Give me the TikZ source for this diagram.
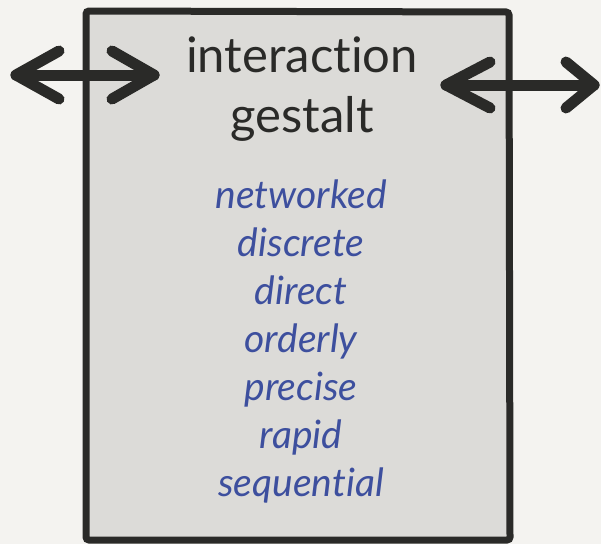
\documentclass[tikz,border=0pt]{standalone}
\usepackage{fontspec}
\setmainfont{Lato}[Ligatures=NoCommon]
\definecolor{bgc}{HTML}{F4F3F0}
\definecolor{boxfill}{HTML}{DCDBD8}
\definecolor{ink}{HTML}{2A2A28}
\definecolor{wordblue}{HTML}{3D4F9E}
\tikzset{
  frame/.style={draw=ink, line width=7pt, fill=boxfill, rounded corners=3pt},
  arrowline/.style={draw=ink, line width=11pt, line cap=round, line join=round},
  title/.style={anchor=base, font=\fontsize{49}{58}\selectfont, text=ink, inner sep=0pt},
  word/.style={anchor=base, font=\fontsize{39}{46}\itshape\selectfont, text=wordblue, inner sep=0pt}
}
\begin{document}
\begin{tikzpicture}[x=1pt,y=-1pt]
\useasboundingbox (0,0) rectangle (601,544);
\fill[bgc] (0,0) rectangle (601,544);
\draw[frame] (86,11) -- (509,12) -- (510,540) -- (86,540) -- cycle;
\node[title] (t1) at (302,72) {interaction};
\node[title] (t2) at (302,132) {gestalt};
\foreach \w [count=\i from 0] in {networked,discrete,direct,orderly,precise,rapid,sequential}
  \node[word] (w\i) at (301,208+48*\i) {\w};
% left double arrow
\coordinate (la) at (16,75);
\coordinate (lb) at (154,75);
\draw[arrowline] (la) -- (lb);
\draw[arrowline] (59,51) -- (la) -- (59,99);
\draw[arrowline] (112,51) -- (lb) -- (112,99);
% right double arrow
\coordinate (ra) at (446,85);
\coordinate (rb) at (594,85);
\draw[arrowline] (ra) -- (rb);
\draw[arrowline] (490,62) -- (ra) -- (490,108);
\draw[arrowline] (566,62) -- (rb) -- (566,108);
\end{tikzpicture}
\end{document}
